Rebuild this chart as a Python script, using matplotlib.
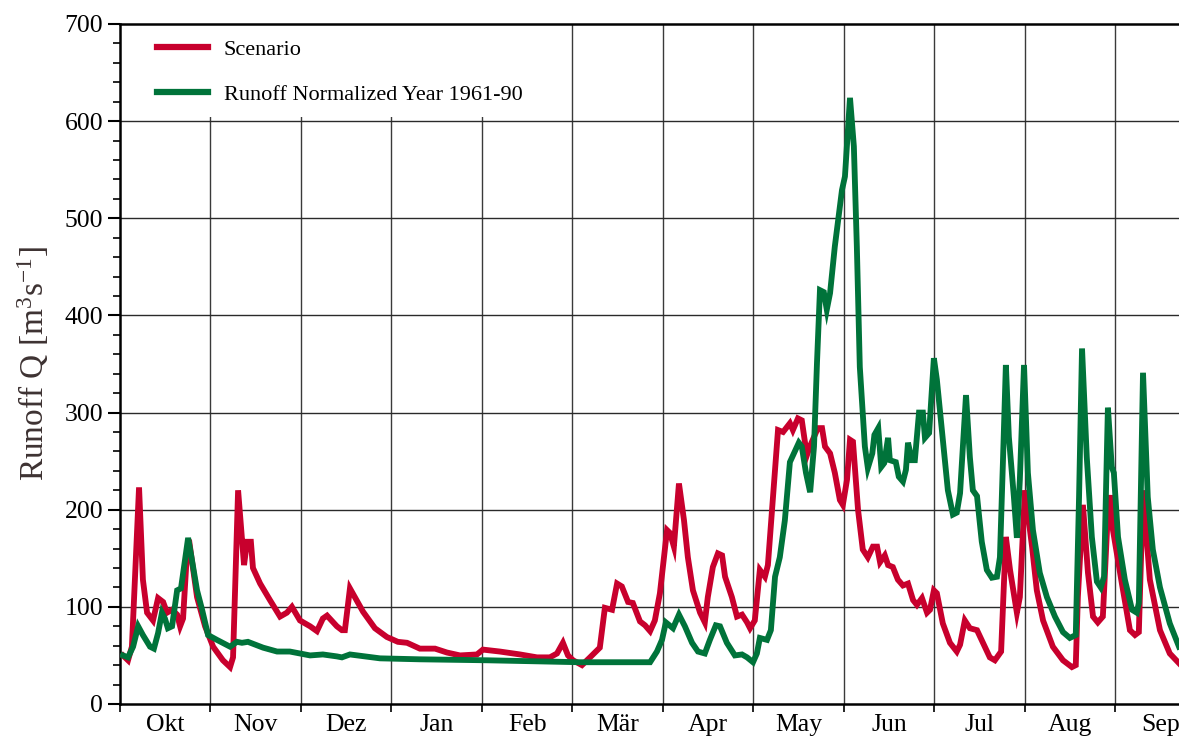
import matplotlib
matplotlib.use('Agg')
import matplotlib.pyplot as plt
from matplotlib.patches import Rectangle
import numpy as np

plt.rcParams['font.family'] = ['Liberation Serif', 'DejaVu Serif']
plt.rcParams['mathtext.fontset'] = 'custom'
plt.rcParams['mathtext.rm'] = 'Liberation Serif'
plt.rcParams['mathtext.it'] = 'Liberation Serif:italic'

# Tage ab 1. Oktober (Abflussjahr), Werte in m3/s
scen_day = [1.0, 2.7, 4.0, 6.4, 7.7, 9.1, 11.1, 12.8, 14.5, 15.8, 17.5, 19.2, 20.2, 21.2, 22.5, 23.2,
            25.9, 28.6, 31.3, 34.6, 37.0, 38.0, 39.7, 41.7, 42.7, 44.0, 44.7, 47.1, 50.4, 53.8, 56.1,
            57.8, 60.5, 63.9, 66.2, 68.2, 69.6, 72.9, 74.6, 75.6, 77.3, 81.7, 85.7, 89.7, 93.4, 96.5,
            100.8, 105.9, 109.9, 114.3, 120.0, 122.0, 127.7, 134.5, 140.2, 144.5, 146.9, 148.9, 150.6,
            152.3, 155.3, 158.0, 161.3, 163.0, 165.4, 167.1, 168.7, 170.8, 172.4, 174.8, 176.5, 178.2,
            179.8, 181.5, 183.9, 184.9, 186.2, 187.9, 189.6, 190.9, 192.6, 195.0, 196.6, 197.6, 199.3,
            201.0, 202.4, 203.4, 205.7, 207.4, 209.1, 210.8, 211.8, 213.4, 215.1, 216.8, 217.8, 219.5,
            221.2, 222.9, 225.2, 226.2, 227.9, 229.2, 230.9, 231.9, 234.6, 236.0, 237.0, 238.7, 240.3,
            242.0, 243.0, 244.4, 245.4, 246.4, 248.1, 249.7, 251.4, 253.1, 254.5, 255.5, 257.1, 258.2,
            259.8, 261.5, 263.2, 264.9, 266.6, 267.9, 269.6, 271.3, 272.3, 273.6, 274.6, 276.6, 279.0,
            281.3, 282.4, 284.0, 285.7, 288.1, 292.4, 294.1, 296.2, 297.8, 299.2, 301.5, 302.5, 304.2,
            306.6, 308.2, 310.3, 313.6, 317.0, 320.0, 321.3, 322.0, 323.7, 325.4, 327.1, 328.7, 330.4,
            331.8, 333.1, 333.8, 336.8, 339.5, 341.2, 342.5, 343.9, 346.2, 349.6, 352.9, 356.0]
scen_q = [50, 45, 59, 223, 128, 94, 86, 109, 105, 94, 97, 92, 80, 88, 155, 169,
          110, 80, 59, 45, 38, 48, 220, 143, 167, 167, 140, 124, 107, 90, 94,
          100, 86, 80, 75, 88, 91, 80, 76, 76, 119, 95, 78, 69, 64, 63,
          57, 57, 53, 50, 51, 56, 54, 51, 48, 48, 52, 63, 50,
          45, 40, 48, 58, 99, 97, 124, 121, 105, 104, 85, 81, 75,
          86, 114, 179, 176, 162, 227, 189, 151, 117, 94, 84, 110, 141,
          155, 153, 131, 110, 90, 92, 84, 78, 86, 138, 131, 143, 213,
          282, 280, 289, 282, 294, 292, 256, 265, 284, 284, 265, 258, 238,
          210, 205, 231, 272, 270, 200, 159, 151, 162, 162, 146, 153, 143,
          141, 128, 122, 124, 107, 102, 109, 94, 97, 117, 114, 83, 63,
          54, 61, 86, 78, 76, 48, 45, 54, 172, 138, 94, 110, 220,
          162, 117, 86, 59, 45, 38, 40, 110, 205, 135, 90, 84, 90,
          179, 215, 179, 124, 76, 71, 74, 220, 128, 76, 52, 42]

norm_day = [1.0, 2.7, 4.4, 6.1, 7.7, 10.1, 11.4, 12.8, 14.1, 15.1, 16.1, 17.5, 19.2, 20.5, 21.5, 22.9,
            24.2, 25.9, 27.6, 29.6, 32.6, 37.0, 39.3, 41.0, 43.0, 48.1, 52.8, 57.1, 63.9, 68.2, 72.9,
            74.6, 77.3, 87.4, 100.8, 123.4, 154.6, 178.2, 180.5, 182.2, 183.5, 185.9, 187.9, 189.9,
            192.3, 194.3, 196.6, 198.3, 200.3, 201.7, 204.0, 206.7, 209.1, 210.8, 212.8, 214.1, 215.1,
            217.5, 218.8, 220.2, 221.8, 223.5, 225.2, 228.2, 229.2, 230.6, 232.0, 233.3, 234.3, 235.3,
            236.6, 237.6, 238.7, 240.3, 241.7, 242.7, 243.7, 245.4, 246.7, 247.7, 248.7, 250.4, 251.4,
            252.9, 253.6, 254.9, 255.9, 256.9, 258.2, 258.8, 260.8, 261.8, 263.2, 264.2, 264.9, 266.2,
            267.2, 268.6, 269.9, 270.6, 272.0, 273.6, 274.6, 276.3, 278.3, 280.0, 281.3, 282.4, 284.4,
            285.7, 286.7, 288.1, 289.7, 291.4, 293.1, 294.8, 295.8, 296.8, 297.8, 298.8, 300.5, 301.5,
            302.5, 303.9, 305.2, 306.9, 309.2, 311.6, 314.3, 317.0, 319.3, 321.3, 322.4, 323.4, 325.0,
            326.7, 328.4, 329.7, 330.8, 332.1, 333.4, 334.1, 335.5, 337.8, 340.2, 341.8, 342.5, 343.9,
            345.5, 347.2, 349.6, 352.9, 356.0]
norm_q = [50, 48, 59, 80, 71, 59, 57, 73, 94, 88, 78, 80, 117, 119, 141, 171,
          148, 117, 97, 71, 66, 59, 64, 63, 64, 58, 54, 54, 50, 51, 49,
          48, 51, 47, 46, 45, 43, 43, 54, 66, 84, 78, 92, 80,
          63, 54, 52, 66, 81, 80, 63, 50, 51, 48, 43, 52, 68,
          66, 76, 131, 151, 189, 249, 269, 265, 238, 218, 265, 351, 426,
          424, 406, 423, 471, 505, 529, 543, 624, 574, 471, 347, 265, 243,
          258, 277, 284, 244, 248, 274, 251, 249, 234, 229, 241, 269, 251,
          251, 300, 300, 274, 279, 356, 334, 282, 220, 195, 197, 217, 318,
          254, 220, 214, 167, 138, 130, 131, 151, 248, 349, 275, 213, 171,
          231, 349, 238, 179, 135, 110, 90, 74, 68, 71, 213, 366, 254,
          172, 126, 120, 131, 305, 244, 238, 172, 128, 97, 94, 104, 341,
          213, 159, 120, 83, 59]

months = ['Okt', 'Nov', 'Dez', 'Jan', 'Feb', 'Mär', 'Apr', 'May', 'Jun', 'Jul', 'Aug', 'Sep']

red = '#c8002d'
green = '#00733a'

fig = plt.figure(figsize=(11.79, 7.40), dpi=100)
ax = fig.add_axes([120/1179, 36/740, 1 - 120/1179, 680/740])

ax.plot(scen_day, scen_q, color=red, lw=4.2, label='Scenario', zorder=3, solid_joinstyle='miter')
ax.plot(norm_day, norm_q, color=green, lw=4.2, label='Runoff Normalized Year 1961-90', zorder=4,
        solid_joinstyle='miter')

mlen = 365 / 12
ax.set_xlim(0, 356)
ax.set_ylim(0, 700)

# Gitter
for k in range(1, 12):
    ax.axvline(k * mlen, color='#3a3a3a', lw=1.0, zorder=0.5)
for v in range(100, 700, 100):
    ax.axhline(v, color='#2a2a2a', lw=1.0, zorder=0.5)

# weisser Hintergrund hinter der Legende
ax.add_patch(Rectangle((0, 0.863), 0.415, 0.137, transform=ax.transAxes,
                       facecolor='white', edgecolor='none', zorder=1))

ax.set_yticks(np.arange(0, 701, 100))
ax.set_yticks(np.arange(0, 701, 20), minor=True)
ax.tick_params(axis='y', which='major', direction='out', length=9, width=1.5, pad=3, labelsize=18.5)
ax.tick_params(axis='y', which='minor', direction='out', length=5, width=1.2)

ax.set_xticks([k * mlen for k in range(12)])
ax.set_xticklabels([])
ax.set_xticks([(k + 0.5) * mlen for k in range(12)], minor=True)
ax.set_xticklabels(months, minor=True)
ax.tick_params(axis='x', which='major', direction='out', length=6, width=1.2)
ax.tick_params(axis='x', which='minor', length=0, pad=7, labelsize=18.5)

for s in ['left', 'bottom', 'top']:
    ax.spines[s].set_linewidth(1.8)
ax.spines['right'].set_visible(False)

ax.set_ylabel('Runoff Q [m$^3$s$^{-1}$]', fontsize=24, color='#3d3232', labelpad=10)

leg = ax.legend(loc='upper left', bbox_to_anchor=(0.035, 0.977), frameon=False, fontsize=16,
                handlelength=2.3, handletextpad=0.7, labelspacing=1.08, borderpad=0, borderaxespad=0)
for h in leg.get_lines():
    h.set_linewidth(4.5)

fig.savefig('out.png', dpi=100)
